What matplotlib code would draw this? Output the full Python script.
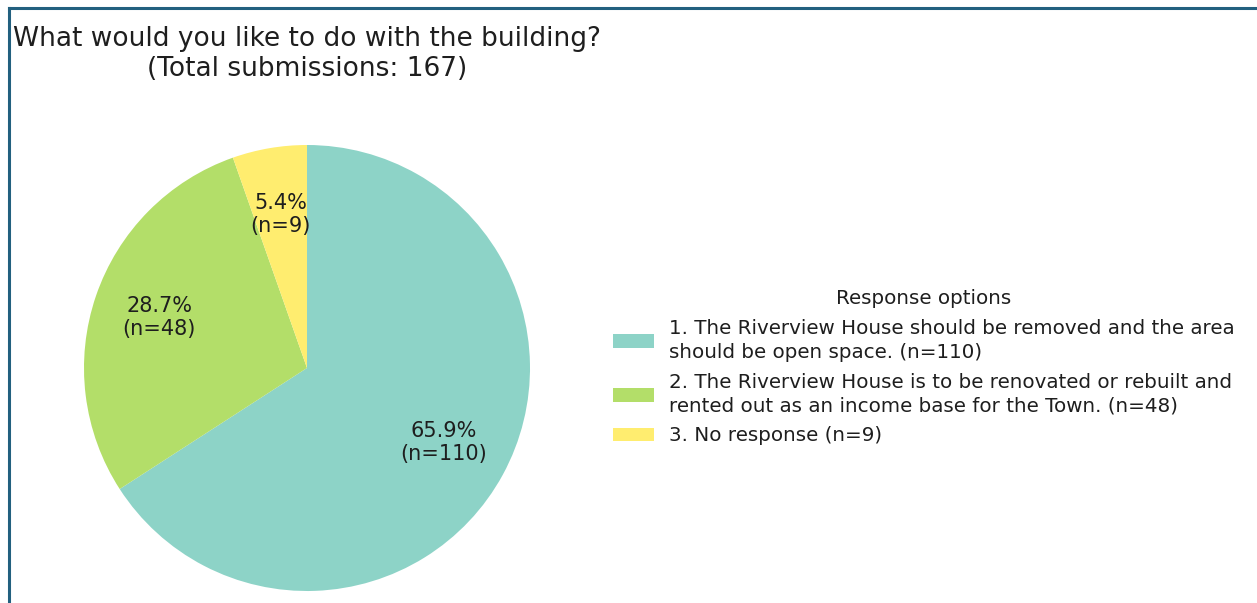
import matplotlib.pyplot as plt
from matplotlib.lines import Line2D

# survey data
options = [
    "1. The Riverview House should be removed and the area\nshould be open space.",
    "2. The Riverview House is to be renovated or rebuilt and\nrented out as an income base for the Town.",
    "3. No response",
]
counts = [110, 48, 9]
colors = ["#8dd3c7", "#b3de69", "#ffed6f"]
total = sum(counts)

fig = plt.figure(figsize=(12.57, 6.03), dpi=100)

# pie axes placed by pixel box
W, H = 1257, 603
cx, cy, r = 307, 368, 223
pad = 1.03
ax = fig.add_axes([(cx - r * pad) / W, (H - cy - r * pad) / H,
                   2 * r * pad / W, 2 * r * pad / H])


def fmt(p):
    n = int(round(p * total / 100))
    return "%.1f%%\n(n=%d)" % (p, n)


wedges, _, autotexts = ax.pie(counts, colors=colors, startangle=90,
                              counterclock=False, autopct=fmt,
                              pctdistance=0.7,
                              textprops={"fontsize": 15, "color": "#1e1e1e"})
ax.set_xlim(-pad, pad)
ax.set_ylim(-pad, pad)
ax.set_aspect("equal")

fig.text(cx / W, 1 - 54 / H,
         "What would you like to do with the building?\n(Total submissions: 167)",
         ha="center", va="center", fontsize=19, color="#1e1e1e",
         multialignment="center", linespacing=1.25)

labels = ["%s (n=%d)" % (o, c) for o, c in zip(options, counts)]
leg = fig.legend(wedges, labels,
                 loc="upper left", bbox_to_anchor=(595 / W, 1 - 301 / H),
                 frameon=False, fontsize=14.35,
                 labelspacing=0.55, handlelength=2.05, handletextpad=0.75)
for t in leg.get_texts():
    t.set_linespacing(1.32)
    t.set_color("#1e1e1e")
fig.text(924 / W, 1 - 298 / H, "Response options", ha="center", va="center",
         fontsize=14.35, color="#1e1e1e")

# frame lines (top and left)
fig.add_artist(Line2D([9 / W, 1], [1 - 8 / H, 1 - 8 / H], transform=fig.transFigure,
                      color="#22607f", lw=2.2))
fig.add_artist(Line2D([9 / W, 9 / W], [0, 1 - 8 / H], transform=fig.transFigure,
                      color="#22607f", lw=2.2))

fig.savefig("out.png", dpi=100)
